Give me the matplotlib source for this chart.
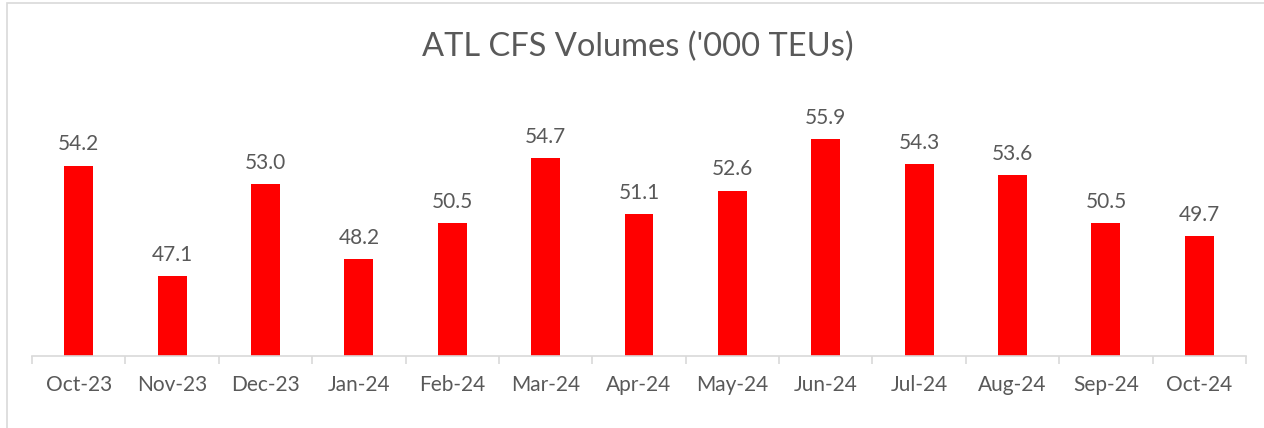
import matplotlib
matplotlib.use("Agg")
import matplotlib.pyplot as plt
from matplotlib.patches import Rectangle

months = ["Oct-23", "Nov-23", "Dec-23", "Jan-24", "Feb-24", "Mar-24", "Apr-24",
          "May-24", "Jun-24", "Jul-24", "Aug-24", "Sep-24", "Oct-24"]
volumes = [54.2, 47.1, 53.0, 48.2, 50.5, 54.7, 51.1, 52.6, 55.9, 54.3, 53.6, 50.5, 49.7]

plt.rcParams['font.family'] = ['Lato', 'DejaVu Sans']
txt = '#595959'

W, H = 1264, 428
fig = plt.figure(figsize=(W / 100, H / 100), dpi=100)
fig.patches.append(Rectangle((7 / W, -0.1), 1.2, 1 - 3 / H + 0.1, transform=fig.transFigure,
                             fill=False, edgecolor='#d9d9d9', linewidth=1.2))

ax = fig.add_axes([32 / W, 1 - 356 / H, (1246 - 32) / W, 281 / H])
x = list(range(len(months)))
bars = ax.bar(x, volumes, width=0.31, color='#ff0000', zorder=2)
ax.set_xlim(-0.5, len(months) - 0.5)
ax.set_ylim(42, 60)
ax.set_yticks([])
for s in ['top', 'right', 'left']:
    ax.spines[s].set_visible(False)
ax.spines['bottom'].set_color('#d9d9d9')
ax.spines['bottom'].set_linewidth(1.2)
ax.set_xticks(x)
ax.set_xticklabels(months, fontsize=15, color=txt)
ax.tick_params(axis='x', length=0, pad=14)
ax.set_xticks([i - 0.5 for i in range(len(months) + 1)], minor=True)
ax.tick_params(axis='x', which='minor', length=6, color='#d9d9d9', width=1.2)

for xi, v in zip(x, volumes):
    ax.annotate(f"{v:.1f}", (xi, v), xytext=(0, 8), textcoords='offset points',
                ha='center', va='bottom', fontsize=15, color=txt)

fig.text(638 / W, 1 - 47 / H, "ATL CFS Volumes ('000 TEUs)", ha='center', va='center',
         fontsize=23.5, color=txt)

fig.savefig("out.png", dpi=100)
